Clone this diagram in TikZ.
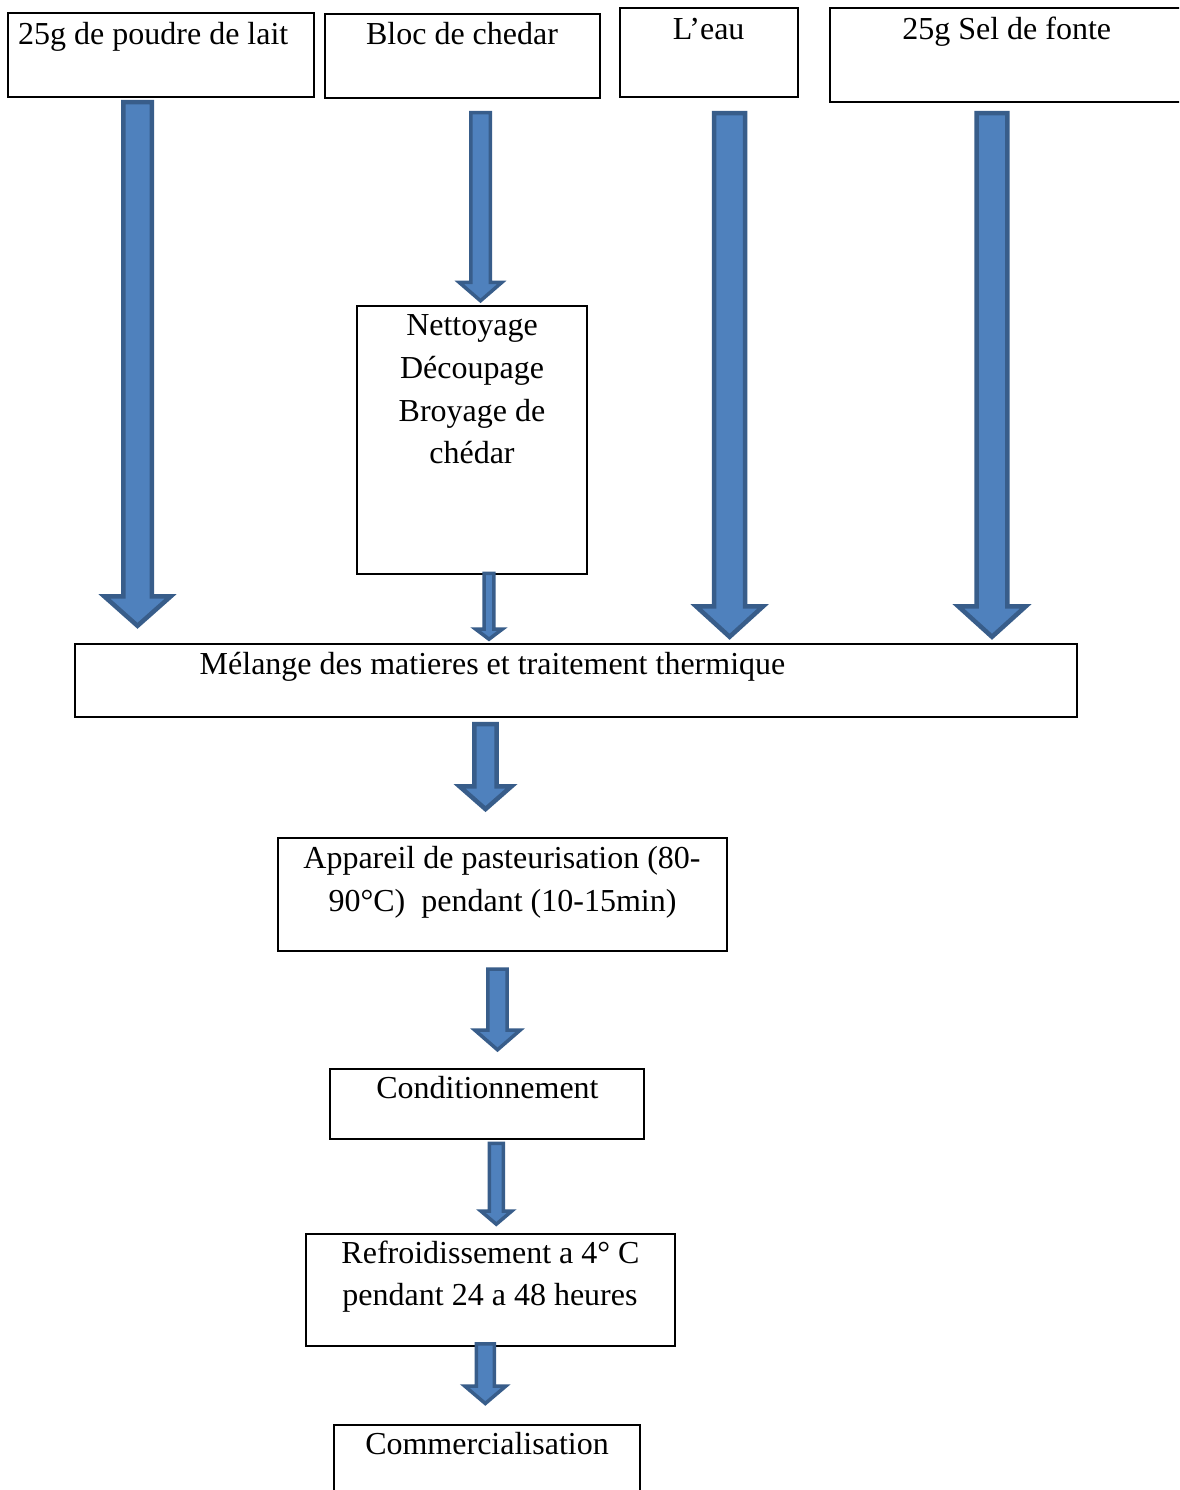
\documentclass[tikz,border=0pt]{standalone}
\usepackage{fontspec}
\setmainfont{Liberation Serif}
\usetikzlibrary{calc}
\definecolor{afill}{HTML}{4F81BD}
\definecolor{aline}{HTML}{385D8A}
\tikzset{
  box/.style={draw=black, line width=1.3pt, anchor=north west, inner sep=0pt, outer sep=0pt},
  lbl/.style={anchor=base, inner sep=0pt, font=\fontsize{32}{42}\selectfont},
  barrow/.style={fill=afill, draw=aline, line join=miter},
}
% #1 start coordinate, #2 tip coordinate, #3 shaft half width, #4 head half width, #5 head length, #6 outline width
\newcommand\blockarr[6]{\path[barrow, line width=#6] let \p1=(#1), \p2=(#2) in
  (\x1-#3,\y1) -- (\x1+#3,\y1) -- (\x1+#3,\y2+#5) -- (\x1+#4,\y2+#5) -- (\x2,\y2)
  -- (\x1-#4,\y2+#5) -- (\x1-#3,\y2+#5) -- cycle;}
\begin{document}
\begin{tikzpicture}[x=1pt,y=-1pt]
\useasboundingbox (0,0) rectangle (1179,1490);
\clip (0,0) rectangle (1179,1490);
\fill[white] (0,0) rectangle (1179,1490);

% boxes
\node[box, minimum width=306pt, minimum height=84pt] (b1) at (8,13) {};
\node[box, minimum width=275pt, minimum height=84pt] (b2) at (325,14) {};
\node[box, minimum width=178pt, minimum height=89pt] (b3) at (620,8) {};
\node[box, minimum width=360pt, minimum height=94pt] (b4) at (830,8) {};
\node[box, minimum width=230pt, minimum height=268pt] (bn) at (357,306) {};
\node[box, minimum width=1002pt, minimum height=73pt] (bm) at (75,644) {};
\node[box, minimum width=449pt, minimum height=113pt] (ba) at (278,838) {};
\node[box, minimum width=314pt, minimum height=70pt] (bc) at (330,1069) {};
\node[box, minimum width=369pt, minimum height=112pt] (br) at (306,1234) {};
\node[box, minimum width=306pt, minimum height=100pt] (bk) at (334,1425) {};

% texts
\node[lbl, anchor=base west] (t1) at (18,44.5) {25g de poudre de lait};
\node[lbl] (t2) at (462,44.5) {Bloc de chedar};
\node[lbl] (t3) at (708.6,39.8) {L’eau};
\node[lbl] (t4) at (1006.7,39.8) {25g Sel de fonte};
\node[lbl] (tn1) at (472,335.5) {Nettoyage};
\node[lbl] (tn2) at (472,378.5) {Découpage};
\node[lbl] (tn3) at (472,421.5) {Broyage de};
\node[lbl] (tn4) at (472,463.5) {chédar};
\node[lbl, anchor=base west] (tm) at (199.5,674.5) {Mélange des matieres et traitement thermique};
\node[lbl] (ta1) at (502,868.5) {Appareil de pasteurisation (80-};
\node[lbl] (ta2) at (502.5,911.5) {90°C)\ \ pendant (10-15min)};
\node[lbl] (tc) at (487.5,1098.5) {Conditionnement};
\node[lbl] (tr1) at (490.5,1263.5) {Refroidissement a 4° C};
\node[lbl] (tr2) at (490,1305.5) {pendant 24 a 48 heures};
\node[lbl] (tk) at (487,1454.5) {Commercialisation};

% arrow end points
\coordinate (a1s) at (137.5,102.25);  \coordinate (a1e) at (137.5,625.8);
\coordinate (a2s) at (480.5,112.75);  \coordinate (a2e) at (480.5,300.8);
\coordinate (a3s) at (729.6,113.25);  \coordinate (a3e) at (729.6,636.8);
\coordinate (a4s) at (992,113.25);    \coordinate (a4e) at (992,636.8);
\coordinate (a5s) at (489,573.45);    \coordinate (a5e) at (489,639.2);
\coordinate (a6s) at (485.5,724);     \coordinate (a6e) at (485.5,809.1);
\coordinate (a7s) at (497.5,969.05);  \coordinate (a7e) at (497.5,1049.8);
\coordinate (a8s) at (496.3,1143.45); \coordinate (a8e) at (496.3,1224.2);
\coordinate (a9s) at (485.3,1343.75); \coordinate (a9e) at (485.3,1403.5);

% block arrows
\blockarr{a1s}{a1e}{14.25}{33.25}{29.5}{4.5pt}
\blockarr{a2s}{a2e}{9.75}{21.25}{18.35}{3.5pt}
\blockarr{a3s}{a3e}{15.45}{33.5}{30.5}{4.5pt}
\blockarr{a4s}{a4e}{15.45}{33.75}{30.5}{4.5pt}
\blockarr{a5s}{a5e}{4.95}{13.45}{10.15}{3.5pt}
\blockarr{a6s}{a6e}{11.05}{26.05}{22.85}{4.5pt}
\blockarr{a7s}{a7e}{9.55}{22.75}{19.75}{3.5pt}
\blockarr{a8s}{a8e}{6.95}{15.45}{13.15}{3.5pt}
\blockarr{a9s}{a9e}{9.05}{20.55}{17.45}{3.5pt}
\end{tikzpicture}
\end{document}
